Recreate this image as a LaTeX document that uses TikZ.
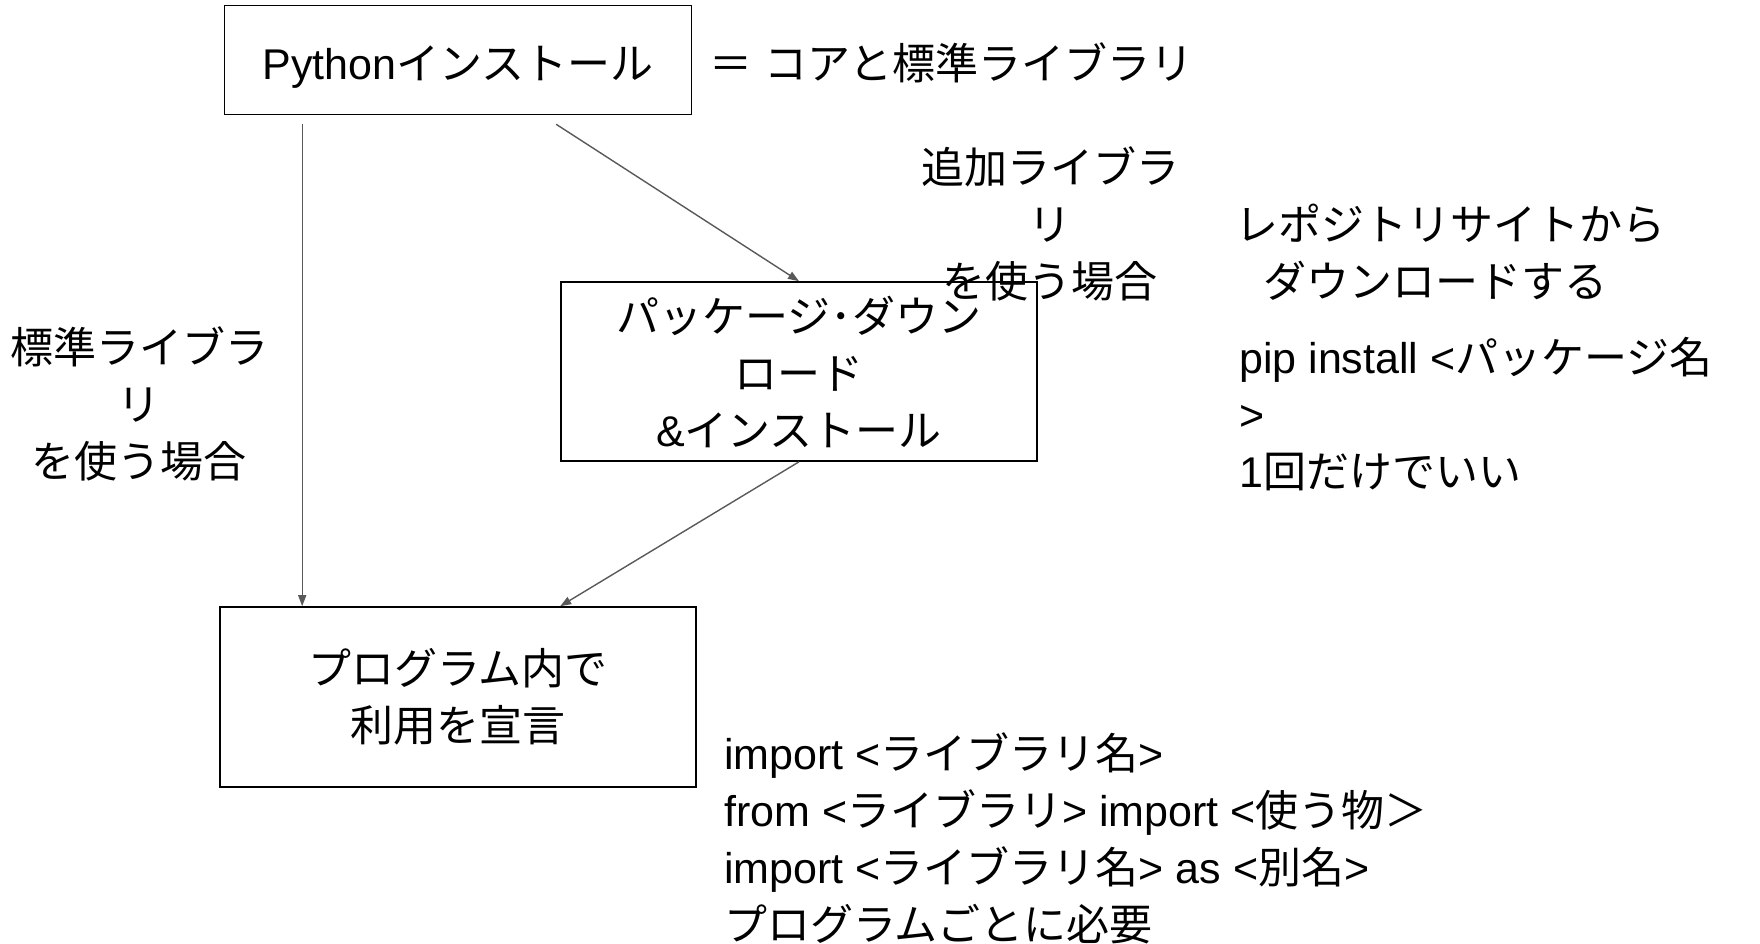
\documentclass[tikz,border=0pt]{standalone}
\usepackage{fontspec}
\setmainfont{Liberation Sans}
\newfontfamily\cjk{Noto Sans CJK JP}
\newcommand\J[1]{{\cjk #1}}
\usetikzlibrary{arrows.meta,calc}
\begin{document}
\begin{tikzpicture}[x=1pt,y=-1pt,
 every node/.style={inner sep=0pt,font=\fontsize{43}{57}\selectfont},
 box/.style={draw=black,line width=1.6pt,align=center},
 lbl/.style={align=center},
 note/.style={align=left,anchor=west},
 arr/.style={draw=black!65,line width=1.4pt,-{Triangle[length=11pt,width=8pt]}}]
\useasboundingbox (0,0) rectangle (1760,944);
\node[box,minimum width=467pt,minimum height=109pt,text height=48pt,text depth=9pt] (py) at (458,60) {Python\J{インストール}};
\node[box,minimum width=476pt,minimum height=179pt] (pkg) at (799,371.5) {\J{パッケージ･ダウン}\\\J{ロード}\\\&\J{インストール}};
\node[box,minimum width=476pt,minimum height=180pt] (prog) at (458,697) {\J{プログラム内で}\\\J{利用を宣言}};
\node[note] (core) at (709,63) {\J{＝} \J{コアと標準ライブラリ}};
\node[lbl] (add) at (1050,224) {\J{追加ライブラ}\\\J{リ}\\\J{を使う場合}};
\node[lbl] (std) at (139,404) {\J{標準ライブラ}\\\J{リ}\\\J{を使う場合}};
\node[note] (repo) at (1235,252) {\J{レポジトリサイトから}\\\hspace*{28pt}\J{ダウンロードする}};
\node[note] (pip) at (1239,414) {pip install <\J{パッケージ名}\\>\\1\J{回だけでいい}};
\node[note] (imp) at (724,838) {import <\J{ライブラリ名}>\\from <\J{ライブラリ}> import <\J{使う物＞}\\import <\J{ライブラリ名}> as <\J{別名}>\\\J{プログラムごとに必要}};
\coordinate (a1) at ([xshift=78.5pt,yshift=-9pt]py.south west);
\coordinate (a2) at ([xshift=332.5pt,yshift=-9pt]py.south west);
\draw[arr] (a1) -- (a1 |- prog.north);
\draw[arr] (a2) -- (pkg.north);
\draw[arr] (pkg.south) -- ([xshift=341pt]prog.north west);
\end{tikzpicture}
\end{document}
